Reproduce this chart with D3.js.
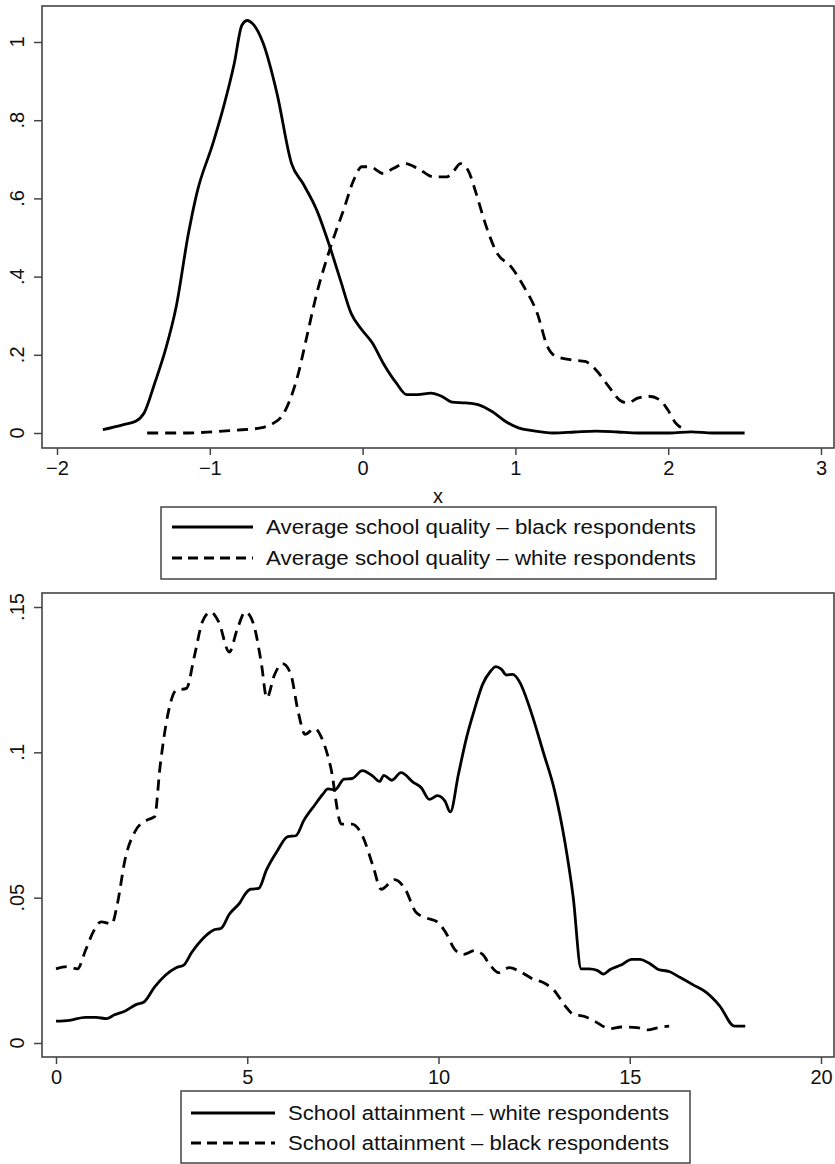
<!DOCTYPE html>
<html><head><meta charset="utf-8">
<script src="https://cdn.jsdelivr.net/npm/d3@7"></script>
<style>
body{margin:0;background:#fff}
text{font-family:"Liberation Sans Narrow","Arial Narrow","Liberation Sans",Arial,sans-serif;fill:#111}
</style></head>
<body><svg id="c" width="835" height="1164"></svg>
<script>
// ---- Panel 1 data: Average school quality ----
const qualityBlackX = [-1.70,-1.57,-1.485,-1.43,-1.36,-1.29,-1.22,-1.14,-1.085,-0.98,-0.91,-0.84,-0.79,-0.754,-0.72,-0.65,-0.56,-0.465,-0.39,-0.30,-0.215,-0.145,-0.075,-0.005,0.064,0.134,0.22,0.29,0.36,0.447,0.517,0.586,0.673,0.76,0.847,0.934,1.02,1.11,1.25,1.39,1.53,1.67,1.80,2.01,2.15,2.29,2.50];
const qualityBlackY = [0.0085,0.021,0.03,0.051,0.128,0.213,0.323,0.51,0.613,0.74,0.834,0.945,1.043,1.055,1.047,0.996,0.868,0.689,0.638,0.570,0.477,0.391,0.306,0.264,0.23,0.179,0.128,0.098,0.098,0.102,0.094,0.079,0.077,0.072,0.055,0.03,0.013,0.006,0.0,0.0026,0.005,0.0026,0.0,0.0,0.003,0.0,0.0];
const qualityWhiteX = [-1.41,-1.19,-1.015,-0.84,-0.667,-0.58,-0.528,-0.475,-0.42,-0.37,-0.30,-0.23,-0.18,-0.125,-0.058,-0.005,0.048,0.134,0.203,0.273,0.36,0.465,0.551,0.60,0.64,0.69,0.743,0.795,0.88,0.97,1.056,1.143,1.21,1.265,1.37,1.456,1.526,1.61,1.68,1.735,1.80,1.874,1.944,1.996,2.048,2.12];
const qualityWhiteY = [0.0,0.0,0.002,0.007,0.013,0.026,0.043,0.085,0.153,0.238,0.357,0.451,0.51,0.57,0.647,0.681,0.681,0.664,0.677,0.689,0.677,0.655,0.655,0.672,0.689,0.672,0.613,0.545,0.46,0.426,0.374,0.306,0.221,0.196,0.187,0.183,0.162,0.119,0.085,0.077,0.089,0.094,0.085,0.06,0.026,0.0085];
const topXTicks = [-2,-1,0,1,2,3];
const topXTickLabels = ["\u22122","\u22121","0","1","2","3"];
const topYTicks = [0,0.2,0.4,0.6,0.8,1];
const topYTickLabels = ["0",".2",".4",".6",".8","1"];
const topLegend = ["Average school quality \u2013 black respondents","Average school quality \u2013 white respondents"];
const topXTitle = "x";

// ---- Panel 2 data: School attainment ----
const attainWhiteX = [0,0.35,0.77,1.05,1.32,1.53,1.81,2.09,2.30,2.58,2.86,3.14,3.34,3.55,3.83,4.11,4.32,4.53,4.81,4.95,5.09,5.30,5.5,5.78,6.06,6.27,6.48,6.76,6.97,7.11,7.29,7.53,7.74,8.01,8.29,8.46,8.57,8.78,9.02,9.34,9.55,9.76,9.97,10.17,10.31,10.52,10.73,10.94,11.15,11.36,11.50,11.64,11.78,11.94,12.13,12.40,12.75,13.03,13.31,13.52,13.73,13.94,14.15,14.31,14.49,14.77,15.05,15.26,15.54,15.75,16.03,16.31,16.66,17.00,17.35,17.74,18.02];
const attainWhiteY = [0.0075,0.0078,0.0088,0.0088,0.0084,0.0097,0.011,0.0132,0.0141,0.0193,0.0233,0.0259,0.0268,0.0312,0.0358,0.0388,0.0395,0.0443,0.0483,0.0513,0.0529,0.0532,0.0595,0.066,0.071,0.0713,0.0766,0.0818,0.0855,0.0874,0.0871,0.0908,0.091,0.0937,0.0917,0.09,0.0921,0.0904,0.093,0.0897,0.0878,0.0838,0.0851,0.0832,0.0795,0.0924,0.1049,0.1147,0.1233,0.1279,0.1295,0.1286,0.1266,0.1268,0.124,0.1147,0.0996,0.0871,0.0687,0.0503,0.0255,0.0255,0.025,0.0237,0.0253,0.0268,0.0288,0.0288,0.0272,0.0253,0.0246,0.0226,0.02,0.0174,0.0128,0.0058,0.0058];
const attainBlackX = [0,0.28,0.56,0.77,0.98,1.18,1.46,1.60,1.81,2.09,2.37,2.58,2.72,2.93,3.14,3.41,3.62,3.83,4.04,4.25,4.53,4.74,4.95,5.16,5.37,5.51,5.71,5.92,6.13,6.34,6.51,6.76,6.97,7.18,7.46,7.74,8.01,8.29,8.50,8.85,9.13,9.41,9.69,9.97,10.17,10.45,10.66,10.94,11.15,11.36,11.57,11.85,12.13,12.47,12.75,13.03,13.31,13.52,13.80,14.08,14.49,14.77,15.19,15.47,15.75,16.03];
const attainBlackY = [0.0255,0.0263,0.0255,0.0318,0.0384,0.0417,0.041,0.0476,0.0634,0.0733,0.0766,0.0779,0.095,0.1134,0.1213,0.122,0.1332,0.145,0.1483,0.145,0.1345,0.1424,0.1483,0.1443,0.1305,0.1187,0.1266,0.1305,0.1272,0.1134,0.1062,0.1082,0.1042,0.095,0.0753,0.0753,0.0713,0.0608,0.0529,0.0562,0.0529,0.045,0.043,0.0417,0.0384,0.0318,0.0305,0.0318,0.0305,0.0266,0.0242,0.0259,0.0246,0.022,0.0207,0.018,0.0128,0.0099,0.0092,0.0075,0.0049,0.0055,0.0053,0.0045,0.0053,0.0058];
const botXTicks = [0,5,10,15,20];
const botXTickLabels = ["0","5","10","15","20"];
const botYTicks = [0,0.05,0.1,0.15];
const botYTickLabels = ["0",".05",".1",".15"];
const botLegend = ["School attainment \u2013 white respondents","School attainment \u2013 black respondents"];

const svg = d3.select("#c");
const FS = 20;

function panel(cfg){
  const g = svg.append("g");
  const x = d3.scaleLinear().domain(cfg.xDom).range(cfg.xRange);
  const y = d3.scaleLinear().domain(cfg.yDom).range(cfg.yRange);
  g.append("rect").attr("x",cfg.frame[0]).attr("y",cfg.frame[1])
   .attr("width",cfg.frame[2]-cfg.frame[0]).attr("height",cfg.frame[3]-cfg.frame[1])
   .attr("fill","none").attr("stroke","#444").attr("stroke-width",1.6);
  const xa = d3.axisBottom(x).tickValues(cfg.xTicks).tickSize(7).tickPadding(4)
     .tickFormat((d,i)=>cfg.xLabels[i]);
  const gx = g.append("g").attr("transform",`translate(0,${cfg.frame[3]})`).call(xa);
  gx.attr("font-size",null).attr("font-family",null);
  gx.select(".domain").remove();
  gx.selectAll("line").attr("stroke","#444").attr("stroke-width",1.5);
  gx.selectAll("text").attr("font-size",FS).attr("fill","#111").attr("dy","0.82em");
  const ya = d3.axisLeft(y).tickValues(cfg.yTicks).tickSize(8).tickFormat("");
  const gy = g.append("g").attr("transform",`translate(${cfg.frame[0]},0)`).call(ya);
  gy.select(".domain").remove();
  gy.selectAll("line").attr("stroke","#444").attr("stroke-width",1.5);
  g.selectAll(".ylab").data(cfg.yTicks).enter().append("text")
    .attr("transform",d=>`translate(24,${y(d)}) rotate(-90)`)
    .attr("text-anchor","middle").attr("font-size",FS).text((d,i)=>cfg.yLabels[i]);
  const line = d3.line().x(d=>x(d[0])).y(d=>y(d[1])).curve(d3.curveMonotoneX);
  cfg.series.forEach(s=>{
    const pts = s.x.map((v,i)=>[v,s.y[i]]);
    g.append("path").attr("d",line(pts)).attr("fill","none").attr("stroke","#000")
     .attr("stroke-width",2.8).attr("stroke-linejoin","round").attr("stroke-linecap","butt")
     .attr("stroke-dasharray",s.dash?"11,7":null);
  });
  const L = cfg.legend;
  g.append("rect").attr("x",L.box[0]).attr("y",L.box[1]).attr("width",L.box[2]-L.box[0])
   .attr("height",L.box[3]-L.box[1]).attr("fill","#fff").attr("stroke","#444").attr("stroke-width",1.5);
  cfg.series.forEach((s,i)=>{
    const yy = L.rows[i];
    g.append("line").attr("x1",L.line[0]).attr("x2",L.line[1]).attr("y1",yy).attr("y2",yy)
     .attr("stroke","#000").attr("stroke-width",2.8).attr("stroke-dasharray",s.dash?"10,6":null);
    g.append("text").attr("x",L.textX).attr("y",yy+7).attr("font-size",FS)
     .attr("textLength",L.textW).attr("lengthAdjust","spacingAndGlyphs").text(L.labels[i]);
  });
  return {g,x,y};
}

const p1 = panel({
  xDom:[-2,3], xRange:[57,821], yDom:[0,1], yRange:[433,42],
  frame:[42,6,834,448], xTicks:topXTicks, xLabels:topXTickLabels,
  yTicks:topYTicks, yLabels:topYTickLabels,
  series:[{x:qualityBlackX,y:qualityBlackY,dash:false},{x:qualityWhiteX,y:qualityWhiteY,dash:true}],
  legend:{box:[161,507,716,579], rows:[527,558], line:[172,253], textX:266, textW:430, labels:topLegend}
});
p1.g.append("text").attr("x",438).attr("y",503).attr("text-anchor","middle").attr("font-size",FS).text(topXTitle);

panel({
  xDom:[0,20], xRange:[56,821], yDom:[0,0.15], yRange:[1043,607],
  frame:[42,593,834,1057], xTicks:botXTicks, xLabels:botXTickLabels,
  yTicks:botYTicks, yLabels:botYTickLabels,
  series:[{x:attainWhiteX,y:attainWhiteY,dash:false},{x:attainBlackX,y:attainBlackY,dash:true}],
  legend:{box:[181,1091,690,1163], rows:[1113,1143], line:[191,275], textX:288, textW:381, labels:botLegend}
});
</script></body></html>
